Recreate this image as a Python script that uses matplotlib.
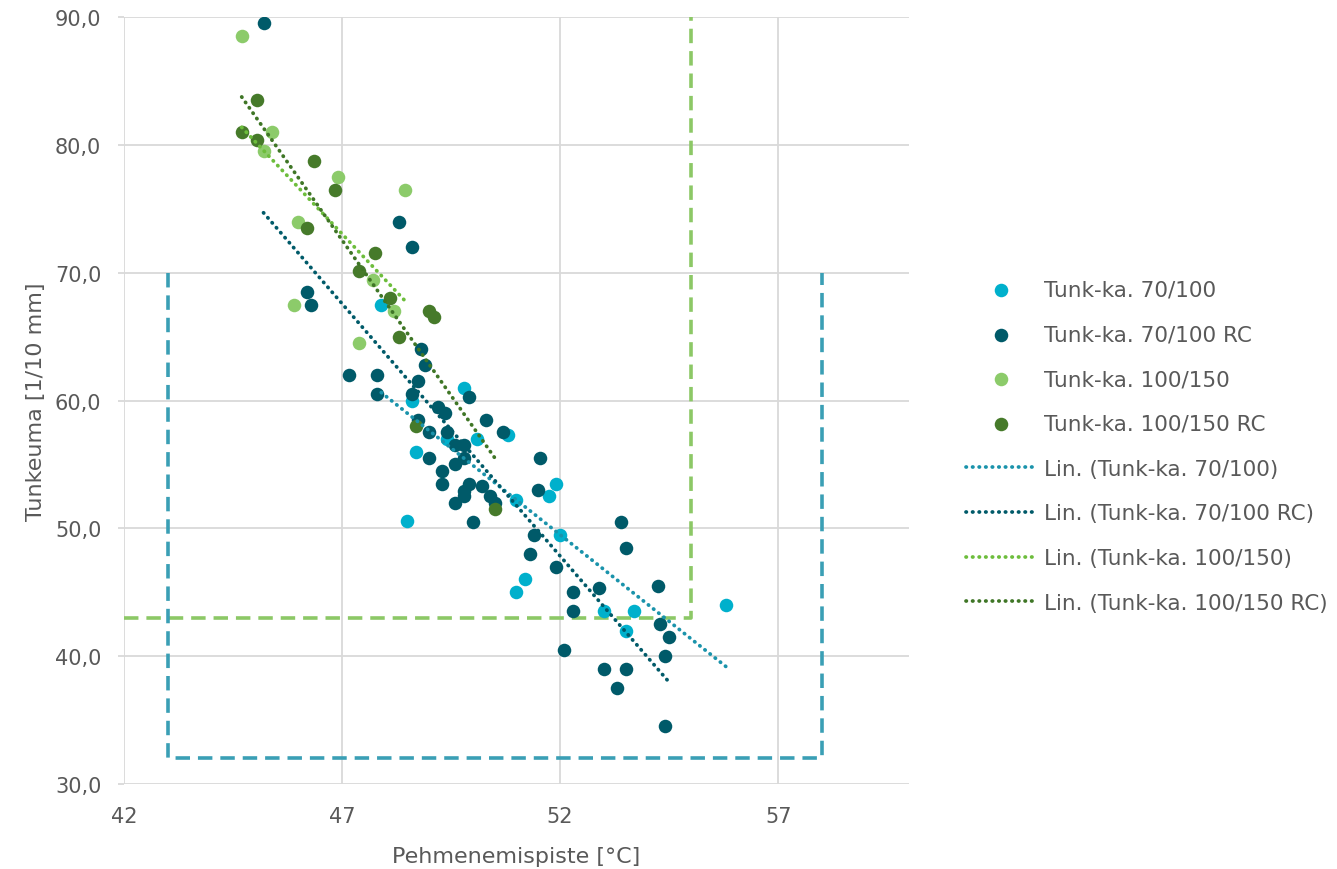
import numpy as np
import matplotlib.pyplot as plt

# Tunk-ka. 70/100
x_70 = [47.9, 48.6, 49.8, 48.7, 48.5, 50.1, 50.8, 49.4, 51.0, 51.75, 51.9, 52.0,
        51.2, 51.0, 55.8, 53.0, 53.7, 53.5]
y_70 = [67.5, 60.0, 61.0, 56.0, 50.6, 57.0, 57.3, 57.0, 52.2, 52.5, 53.5, 49.5,
        46.0, 45.0, 44.0, 43.5, 43.5, 42.0]

# Tunk-ka. 70/100 RC
x_70rc = [45.2, 46.2, 46.3, 47.15, 47.8, 47.8, 48.3, 48.6, 48.8, 48.9, 48.75, 48.6,
          49.9, 49.2, 49.35, 48.75, 50.3, 50.7, 49.0, 49.4, 49.6, 49.8, 49.8, 49.6,
          49.0, 49.3, 49.3, 49.9, 50.2, 49.8, 49.8, 49.6, 50.4, 50.5, 50.0, 51.55,
          51.5, 51.4, 51.3, 51.9, 53.4, 53.5, 54.25, 52.9, 52.3, 52.3, 54.3, 54.5,
          54.4, 52.1, 53.0, 53.5, 53.3, 54.4]
y_70rc = [89.5, 68.5, 67.5, 62.0, 62.0, 60.5, 74.0, 72.0, 64.0, 62.8, 61.5, 60.5,
          60.3, 59.5, 59.0, 58.5, 58.5, 57.5, 57.5, 57.5, 56.5, 56.5, 55.5, 55.0,
          55.5, 54.5, 53.5, 53.5, 53.3, 52.9, 52.5, 52.0, 52.5, 52.0, 50.5, 55.5,
          53.0, 49.5, 48.0, 47.0, 50.5, 48.5, 45.5, 45.3, 45.0, 43.5, 42.5, 41.5,
          40.0, 40.5, 39.0, 39.0, 37.5, 34.5]

# Tunk-ka. 100/150
x_100 = [44.7, 45.4, 45.2, 46.0, 46.9, 48.45, 45.9, 47.4, 47.7, 48.2]
y_100 = [88.5, 81.0, 79.5, 74.0, 77.5, 76.5, 67.5, 64.5, 69.4, 67.0]

# Tunk-ka. 100/150 RC
x_100rc = [44.7, 45.05, 45.05, 46.35, 46.2, 46.85, 47.4, 47.75, 48.1, 48.3, 49.0,
           49.1, 48.7, 50.5]
y_100rc = [81.0, 83.5, 80.4, 78.7, 73.5, 76.5, 70.1, 71.5, 68.0, 65.0, 67.0,
           66.5, 58.0, 51.5]

# target zones (corner points)
zone_100_x = [42, 55, 55]
zone_100_y = [43, 43, 90]
zone_70_x = [43, 43, 58, 58]
zone_70_y = [70, 32, 32, 70]

series = [
    ("Tunk-ka. 70/100", x_70, y_70, "#00b0cc", "#1a93ab"),
    ("Tunk-ka. 70/100 RC", x_70rc, y_70rc, "#005a69", "#005a69"),
    ("Tunk-ka. 100/150", x_100, y_100, "#8ccb6a", "#6dbd3c"),
    ("Tunk-ka. 100/150 RC", x_100rc, y_100rc, "#467a2a", "#3f7626"),
]

plt.rcParams['font.family'] = ['DejaVu Sans']
txt = "#595959"
grid_col = "#d9d9d9"

fig = plt.figure(figsize=(13.37, 8.7), dpi=100)
ax = fig.add_axes([0.0927, 0.0977, 0.5872, 0.8816])

ax.plot(zone_100_x, zone_100_y, color="#8cc866", lw=2.6, ls=(0, (4, 2.2)), zorder=1)
ax.plot(zone_70_x, zone_70_y, color="#3a9fb5", lw=2.6, ls=(0, (4, 2.2)), zorder=1)

dots = []
trends = []
for name, xs, ys, col, tcol in series:
    xs = np.array(xs)
    ys = np.array(ys)
    h = ax.scatter(xs, ys, s=95, color=col, linewidths=0, label=name, zorder=3)
    dots.append(h)
    k, b = np.polyfit(xs, ys, 1)
    xx = np.array([xs.min(), xs.max()])
    ln, = ax.plot(xx, k * xx + b, color=tcol, lw=2.7, ls=(0, (0.1, 1.65)),
                  dash_capstyle="round", label="Lin. (" + name + ")", zorder=4)
    trends.append(ln)

ax.set_xlim(42, 60)
ax.set_ylim(30, 90)
ax.set_xticks([42, 47, 52, 57])
ax.set_yticks(np.arange(30, 91, 10))
ax.set_yticklabels([f"{v:.1f}".replace(".", ",") for v in np.arange(30, 91, 10)])
ax.grid(True, color=grid_col, lw=1.3)
ax.set_axisbelow(True)
for s in ax.spines.values():
    s.set_visible(False)
ax.tick_params(labelsize=15, labelcolor=txt)
ax.tick_params(axis="y", length=4.3, width=1.3, color=grid_col, pad=12)
ax.tick_params(axis="x", length=0, pad=16)

ax.set_xlabel("Pehmenemispiste [°C]", fontsize=16, color=txt, labelpad=14)
ax.set_ylabel("Tunkeuma [1/10 mm]", fontsize=16, color=txt, labelpad=6)

fig.legend(handles=dots + trends, loc="center left", bbox_to_anchor=(0.7083, 0.486),
           frameon=False, fontsize=15.5, labelcolor=txt, handlelength=3.25,
           labelspacing=1.15, handletextpad=0.37, markerscale=1.0)

fig.savefig("out.png", dpi=100)
